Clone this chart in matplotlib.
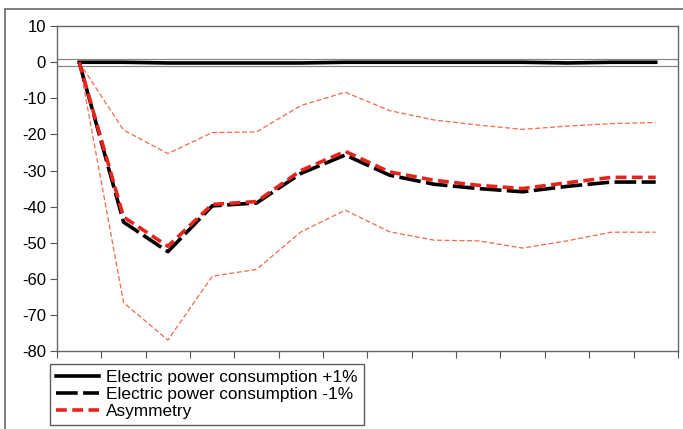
import numpy as np
import matplotlib.pyplot as plt
from matplotlib.patches import Rectangle

plt.rcParams['font.family'] = ['Liberation Sans', 'DejaVu Sans']
plt.rcParams['axes.unicode_minus'] = False

# impulse responses over 14 periods
periods = np.arange(14) + 0.5
pos_shock = [0, 0, -0.2, -0.2, -0.2, -0.2, 0, 0, 0, 0, 0, -0.2, 0, 0]
neg_shock = [0, -44.3, -52.5, -39.8, -39.0, -30.8, -25.7, -31.3, -33.8, -35.0, -35.9, -34.4, -33.2, -33.2]
asymmetry = [0, -42.9, -51.0, -39.4, -38.6, -30.0, -24.7, -30.4, -32.7, -34.1, -35.0, -33.4, -31.9, -31.9]
upper_ci = [0, -18.8, -25.3, -19.5, -19.3, -12.0, -8.3, -13.4, -16.0, -17.4, -18.6, -17.7, -17.0, -16.7]
lower_ci = [0, -66.6, -77.0, -59.3, -57.4, -47.0, -41.0, -47.0, -49.3, -49.5, -51.5, -49.5, -47.1, -47.1]

fig = plt.figure(figsize=(6.83, 4.29), dpi=100)
ax = fig.add_axes([0.0835, 0.182, 0.909, 0.757])

# outer frame
fig.patches.append(Rectangle((5 / 683, -0.05), 1.0, 1 - 9 / 429 + 0.05, transform=fig.transFigure,
                             fill=False, edgecolor='#666666', linewidth=1.2))

ax.axhline(1, color='#888888', linewidth=0.9)
ax.axhline(-1, color='#888888', linewidth=0.9)

ax.plot(periods, upper_ci, color='#f26a4b', linewidth=0.9, dashes=(4, 2))
ax.plot(periods, lower_ci, color='#f26a4b', linewidth=0.9, dashes=(4, 2))
l1, = ax.plot(periods, pos_shock, color='black', linewidth=2.6)
l2, = ax.plot(periods, neg_shock, color='black', linewidth=2.6, dashes=(6, 1.5))
l3, = ax.plot(periods, asymmetry, color='#e8231b', linewidth=2.6, dashes=(3, 1.5))

ax.set_xlim(0, 14)
ax.set_ylim(-80, 10)
ax.set_xticks(np.arange(15))
ax.set_xticklabels([])
ax.set_yticks(np.arange(-80, 11, 10))
ax.tick_params(axis='both', direction='out', length=5, color='#555555', labelsize=12, pad=3)
for s in ax.spines.values():
    s.set_color('#666666')
    s.set_linewidth(1.0)

leg = fig.legend([l1, l2, l3],
                 ['Electric power consumption +1%', 'Electric power consumption -1%', 'Asymmetry'],
                 loc='upper left', bbox_to_anchor=(50 / 683, 1 - 364 / 429),
                 fancybox=False, edgecolor='#333333', fontsize=12.4, handlelength=2.5,
                 labelspacing=0.12, borderpad=0.35, handletextpad=0.4, borderaxespad=0)
leg.get_frame().set_linewidth(1.0)

fig.savefig('out.png', dpi=100)
